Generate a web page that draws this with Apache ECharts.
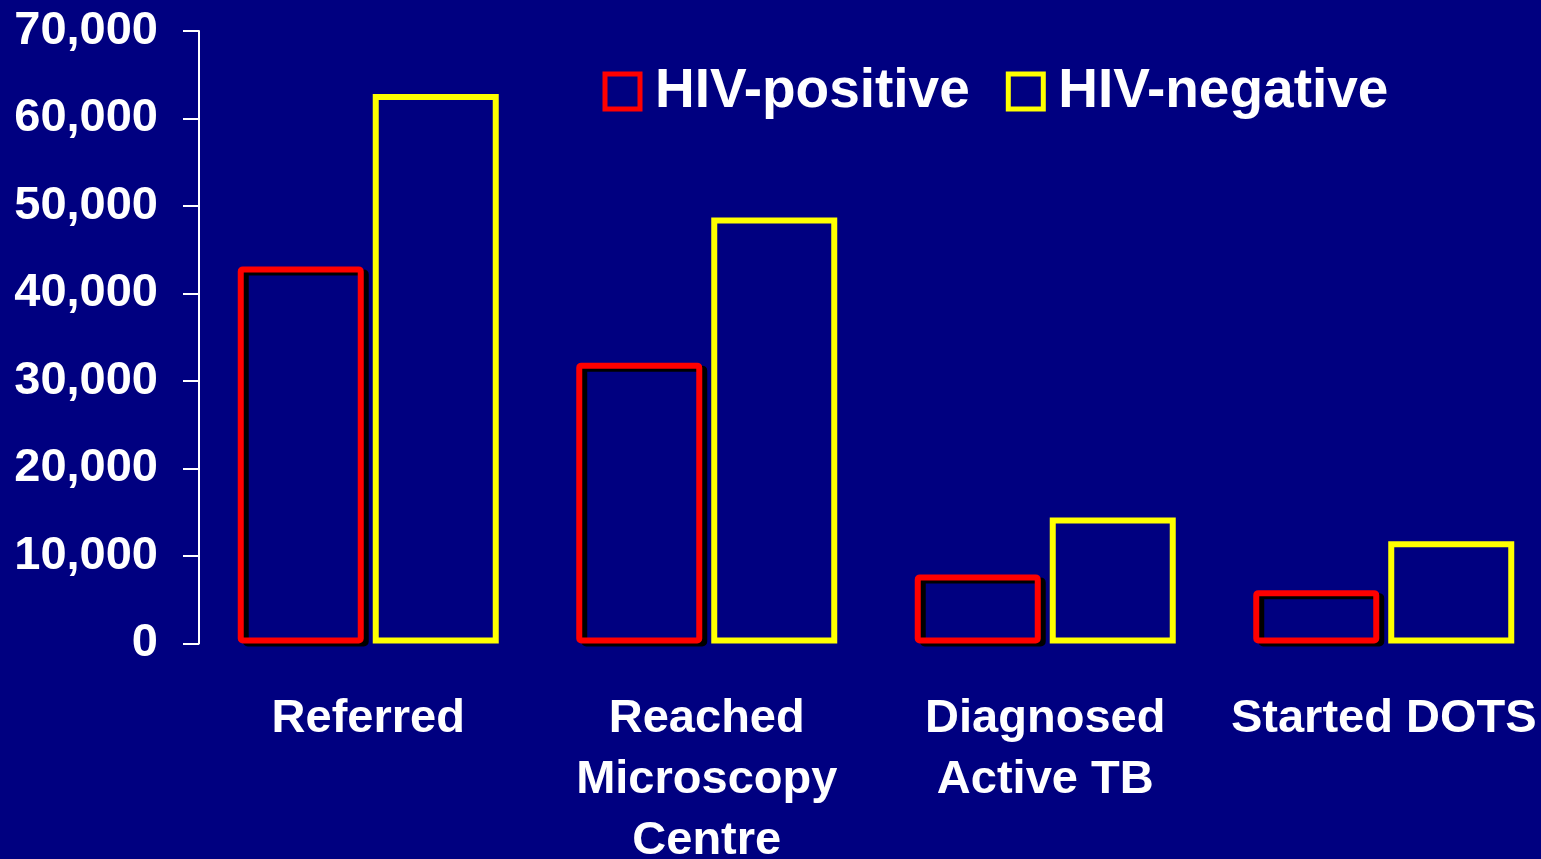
<!DOCTYPE html>
<html>
<head>
<meta charset="utf-8">
<script src="https://cdn.jsdelivr.net/npm/echarts@6/dist/echarts.min.js"></script>
<style>
html,body{margin:0;padding:0;background:#000080;}
#chart{width:1541px;height:859px;}
</style>
</head>
<body>
<div id="chart"></div>
<script>
const categories = ['Referred', 'Reached\nMicroscopy\nCentre', 'Diagnosed\nActive TB', 'Started DOTS'];
const hivPositive = [43100, 32100, 7900, 6100];
const hivNegative = [62800, 48700, 14400, 11700];
const seriesNames = ['HIV-positive', 'HIV-negative'];

const FONT = '"Liberation Sans", Arial, sans-serif';
const chart = echarts.init(document.getElementById('chart'), null, {renderer: 'canvas'});
chart.setOption({
  backgroundColor: '#000080',
  animation: false,
  grid: {left: 199, right: -12, top: 31, bottom: 215.5, containLabel: false, outerBoundsMode: 'none'},
  legend: {
    left: 597.5,
    top: 59,
    icon: 'rect',
    itemWidth: 35,
    itemHeight: 35,
    itemGap: 36,
    itemStyle: {borderWidth: 5, shadowBlur: 0, shadowOffsetX: 0, shadowOffsetY: 0, shadowColor: 'rgba(0,0,0,0)'},
    textStyle: {color: '#ffffff', fontFamily: FONT, fontWeight: 'bold', fontSize: 55, lineHeight: 35, padding: [4, 0, 0, 10]},
    data: seriesNames
  },
  xAxis: {
    type: 'category',
    data: categories,
    axisLine: {show: false},
    axisTick: {show: false},
    axisLabel: {color: '#ffffff', fontFamily: FONT, fontWeight: 'bold', fontSize: 47, lineHeight: 61, margin: 45, interval: 0}
  },
  yAxis: {
    type: 'value',
    min: 0, max: 70000, interval: 10000,
    splitLine: {show: false},
    axisLine: {show: true, lineStyle: {color: '#ffffff', width: 2}},
    axisTick: {show: true, length: 16, lineStyle: {color: '#ffffff', width: 2}},
    axisLabel: {color: '#ffffff', fontFamily: FONT, fontWeight: 'bold', fontSize: 47, margin: 41,
      formatter: v => v.toLocaleString('en-US')}
  },
  series: [
    {
      name: seriesNames[0], type: 'bar', data: hivPositive,
      barWidth: 126, barGap: '7.14%',
      itemStyle: {color: '#000080', borderColor: '#ff0000', borderWidth: 6, borderRadius: 2,
        shadowColor: '#000000', shadowBlur: 0, shadowOffsetX: 5, shadowOffsetY: 3}
    },
    {
      name: seriesNames[1], type: 'bar', data: hivNegative,
      barWidth: 126, barGap: '7.14%',
      itemStyle: {color: '#000080', borderColor: '#ffff00', borderWidth: 6}
    }
  ]
});
</script>
</body>
</html>
